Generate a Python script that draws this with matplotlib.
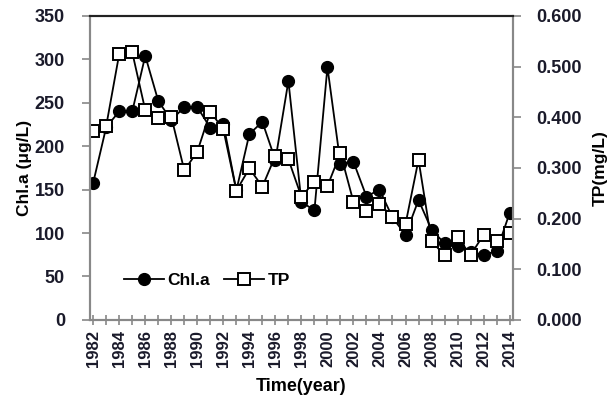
import matplotlib
matplotlib.use("Agg")
import matplotlib.pyplot as plt
from matplotlib.ticker import MultipleLocator, FixedLocator

plt.rcParams['font.family'] = ['Liberation Sans', 'DejaVu Sans']

years = list(range(1982, 2015))
chla = [158, 222, 240, 240, 304, 252, 230, 245, 245, 221, 226, 149, 214, 228, 184, 275,
        136, 126, 291, 180, 182, 142, 150, 118, 98, 138, 104, 88, 85, 78, 75, 79, 123]
tp = [0.372, 0.383, 0.525, 0.528, 0.414, 0.398, 0.401, 0.295, 0.332, 0.411, 0.376, 0.255,
      0.299, 0.263, 0.324, 0.317, 0.243, 0.273, 0.264, 0.329, 0.233, 0.214, 0.229, 0.203,
      0.189, 0.316, 0.155, 0.128, 0.163, 0.128, 0.168, 0.155, 0.172]
left_ticks = [0, 50, 100, 150, 200, 250, 300, 350]
right_ticks = [0.0, 0.1, 0.2, 0.3, 0.4, 0.5, 0.6]
label_years = list(range(1982, 2015, 2))

fig = plt.figure(figsize=(6.12, 4.07), dpi=100)
ax = fig.add_axes([0.147, 0.214, 0.691, 0.747])
ax2 = ax.twinx()

l1, = ax.plot(years, chla, color='black', lw=1.3, marker='o', ms=8.5,
              mfc='black', mec='black', label='Chl.a')
l2, = ax2.plot(years, tp, color='black', lw=1.3, marker='s', ms=8.5,
               mfc='white', mec='black', mew=1.4, label='TP')

ax.set_xlim(1981.75, 2014.25)
ax.set_ylim(0, 350)
ax2.set_ylim(0, 0.6)
ax.set_yticks(left_ticks)
ax.set_yticklabels([str(v) for v in left_ticks])
ax2.set_yticks(right_ticks)
ax2.set_yticklabels([f"{v:.3f}" for v in right_ticks])
ax.xaxis.set_major_locator(FixedLocator(label_years))
ax.set_xticklabels([str(y) for y in label_years], rotation=90)
ax.xaxis.set_minor_locator(MultipleLocator(1))

gray = '#888888'
for a in (ax, ax2):
    a.spines['left'].set_color(gray)
    a.spines['right'].set_color(gray)
    a.spines['bottom'].set_color(gray)
    a.spines['top'].set_color('#222222')
    for s in a.spines.values():
        s.set_linewidth(1.5)

ax.tick_params(axis='y', direction='out', length=6, width=1.2, color=gray,
               labelsize=13, pad=12)
ax2.tick_params(axis='y', direction='out', length=6, width=1.2, color=gray,
                labelsize=13, pad=11)
ax.tick_params(axis='x', which='both', direction='inout', length=7, width=1.2,
               color=gray, labelsize=12, pad=4)

for lab in ax.get_yticklabels() + ax2.get_yticklabels() + ax.get_xticklabels():
    lab.set_fontweight('bold')
    lab.set_color('#1a1a2a')

ax.set_ylabel('Chl.a (μg/L)', fontsize=12.5, fontweight='bold', labelpad=2)
ax2.set_ylabel('TP(mg/L)', fontsize=12.5, fontweight='bold', labelpad=8)
ax.set_xlabel('Time(year)', fontsize=13, fontweight='bold', labelpad=8)

ax2.legend(handles=[l1, l2], loc='center left', bbox_to_anchor=(0.06, 0.13),
           ncol=2, frameon=False, prop={'size': 12.5, 'weight': 'bold'},
           handlelength=2.3, columnspacing=0.8, handletextpad=0.2, borderpad=0)

fig.savefig('out.png', dpi=100)
